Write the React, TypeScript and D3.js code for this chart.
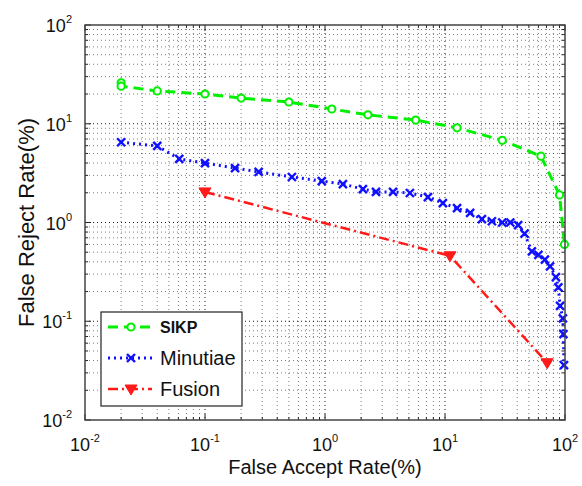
import React from 'react';
import * as d3 from 'd3';

// FAR (%) / FRR (%) pairs
const sikpFar = [0.02, 0.02, 0.04, 0.1, 0.2, 0.5, 1.14, 2.28, 5.7, 12.6, 30, 63, 90, 99];
const sikpFrr = [26, 24, 21.5, 20, 18.2, 16.6, 14.1, 12.3, 10.9, 9.1, 6.8, 4.7, 1.9, 0.6];

const minutiaeFar = [0.02, 0.04, 0.061, 0.1, 0.178, 0.28, 0.53, 0.94, 1.41, 2.07, 2.66, 3.69, 5.1, 7.2, 9.6, 12.6, 16.2, 20.3, 24.6, 30, 35, 40.7, 46, 53, 60, 68, 75, 84, 88, 91, 96, 97, 98];
const minutiaeFrr = [6.5, 5.96, 4.4, 4.0, 3.56, 3.25, 2.89, 2.63, 2.45, 2.18, 2.04, 2.04, 1.99, 1.81, 1.57, 1.4, 1.25, 1.08, 1.03, 1.0, 1.0, 0.94, 0.77, 0.51, 0.47, 0.42, 0.36, 0.28, 0.22, 0.143, 0.107, 0.074, 0.036];

const fusionFar = [0.1, 11, 71];
const fusionFrr = [2.04, 0.46, 0.038];

const decades = [-2, -1, 0, 1, 2];
const legendNames = ['SIKP', 'Minutiae', 'Fusion'];

const font = '"Liberation Sans", Arial, sans-serif';

export default function App() {
  const width = 582;
  const height = 486;
  const margin = {top: 25, right: 17, bottom: 66, left: 85};
  const x = d3.scaleLog().domain([0.01, 100]).range([margin.left, width - margin.right]);
  const y = d3.scaleLog().domain([0.01, 100]).range([height - margin.bottom, margin.top]);
  const [x0, x1] = x.range();
  const [y0, y1] = y.range();

  // major + minor positions
  const minors: number[] = [];
  decades.slice(0, -1).forEach(d => {
    for (let k = 2; k <= 9; k++) minors.push(k * Math.pow(10, d));
  });
  const majors = decades.map(d => Math.pow(10, d));

  const line = d3.line<[number, number]>().x(d => x(d[0])).y(d => y(d[1]));
  const zip = (a: number[], b: number[]) => a.map((v, i) => [v, b[i]] as [number, number]);

  const sikp = zip(sikpFar, sikpFrr);
  const minutiae = zip(minutiaeFar, minutiaeFrr);
  const fusion = zip(fusionFar, fusionFrr);

  const green = '#00f000';
  const blue = '#1010ff';
  const red = '#ff1a1a';

  const circle = (cx: number, cy: number, key: any) => (
    <circle key={key} cx={cx} cy={cy} r={3.6} fill="#fff" stroke={green} strokeWidth={2} />
  );
  const cross = (cx: number, cy: number, key: any) => (
    <g key={key} stroke={blue} strokeWidth={2.4}>
      <line x1={cx - 4} y1={cy - 4} x2={cx + 4} y2={cy + 4} />
      <line x1={cx - 4} y1={cy + 4} x2={cx + 4} y2={cy - 4} />
    </g>
  );
  const tri = (cx: number, cy: number, key: any) => (
    <path key={key} d={`M${cx - 6},${cy - 4}L${cx + 6},${cy - 4}L${cx},${cy + 6}Z`} fill={red} stroke={red} />
  );

  const styles = [
    {color: green, dash: '10,6', w: 3, marker: circle},
    {color: blue, dash: '2,4', w: 3, marker: cross},
    {color: red, dash: '10,4,2,4', w: 2.5, marker: tri},
  ];
  const series = [sikp, minutiae, fusion];

  return (
    <div style={{position: 'fixed', left: 0, top: 0}}>
      <svg width={width} height={height} style={{display: 'block', background: '#fff'}} fontFamily={font}>
        {/* grid */}
        {minors.map((v, i) => (
          <g key={'mg' + i} stroke="#000" strokeWidth={1} strokeDasharray="1,3" opacity={0.5}>
            <line x1={x(v)} x2={x(v)} y1={y1} y2={y0} />
            <line x1={x0} x2={x1} y1={y(v)} y2={y(v)} />
          </g>
        ))}
        {majors.slice(1, -1).map((v, i) => (
          <g key={'Mg' + i} stroke="#000" strokeWidth={1} strokeDasharray="1,3" opacity={0.9}>
            <line x1={x(v)} x2={x(v)} y1={y1} y2={y0} />
            <line x1={x0} x2={x1} y1={y(v)} y2={y(v)} />
          </g>
        ))}

        {/* ticks on all sides */}
        <g stroke="#222" strokeWidth={1}>
          {minors.map((v, i) => (
            <g key={'mt' + i}>
              <line x1={x(v)} x2={x(v)} y1={y0} y2={y0 - 3} />
              <line x1={x(v)} x2={x(v)} y1={y1} y2={y1 + 3} />
              <line x1={x0} x2={x0 + 3} y1={y(v)} y2={y(v)} />
              <line x1={x1} x2={x1 - 3} y1={y(v)} y2={y(v)} />
            </g>
          ))}
          {majors.map((v, i) => (
            <g key={'Mt' + i}>
              <line x1={x(v)} x2={x(v)} y1={y0} y2={y0 - 6} />
              <line x1={x(v)} x2={x(v)} y1={y1} y2={y1 + 6} />
              <line x1={x0} x2={x0 + 6} y1={y(v)} y2={y(v)} />
              <line x1={x1} x2={x1 - 6} y1={y(v)} y2={y(v)} />
            </g>
          ))}
        </g>

        {/* series */}
        {series.map((s, i) => (
          <g key={'s' + i}>
            <path d={line(s) || ''} fill="none" stroke={styles[i].color} strokeWidth={styles[i].w}
              strokeDasharray={styles[i].dash} />
            {s.map((p, j) => styles[i].marker(x(p[0]), y(p[1]), j))}
          </g>
        ))}

        {/* frame */}
        <rect x={x0} y={y1} width={x1 - x0} height={y0 - y1} fill="none" stroke="#444" strokeWidth={1.5} />

        {/* tick labels */}
        {decades.map(d => (
          <text key={'xl' + d} x={x(Math.pow(10, d))} y={451} textAnchor="middle" fontSize={18} fill="#111">
            10<tspan dy={-9} fontSize={11}>{d}</tspan>
          </text>
        ))}
        {decades.map(d => (
          <text key={'yl' + d} x={72} y={y(Math.pow(10, d)) + 7} textAnchor="end" fontSize={18} fill="#111">
            10<tspan dy={-9} fontSize={11}>{d}</tspan>
          </text>
        ))}

        {/* axis titles */}
        <text x={(x0 + x1) / 2} y={474} textAnchor="middle" fontSize={20} fill="#111">False Accept Rate(%)</text>
        <text transform={`translate(34,${(y0 + y1) / 2}) rotate(-90)`} textAnchor="middle" fontSize={22} fill="#111">
          False Reject Rate(%)
        </text>

        {/* legend */}
        <g>
          <rect x={101} y={312} width={141} height={94} fill="#fff" stroke="#222" strokeWidth={1.2} />
          {legendNames.map((name, i) => {
            const ly = 327 + i * 31;
            return (
              <g key={'lg' + i}>
                <line x1={108} x2={152} y1={ly} y2={ly} stroke={styles[i].color} strokeWidth={styles[i].w}
                  strokeDasharray={styles[i].dash} />
                {styles[i].marker(131, ly, 'm')}
                <text x={160} y={ly + (i === 0 ? 6 : 7)} fontSize={i === 0 ? 16 : 20}
                  fontWeight={i === 0 ? 'bold' : 'normal'} fill="#111">{name}</text>
              </g>
            );
          })}
        </g>
      </svg>
    </div>
  );
}
